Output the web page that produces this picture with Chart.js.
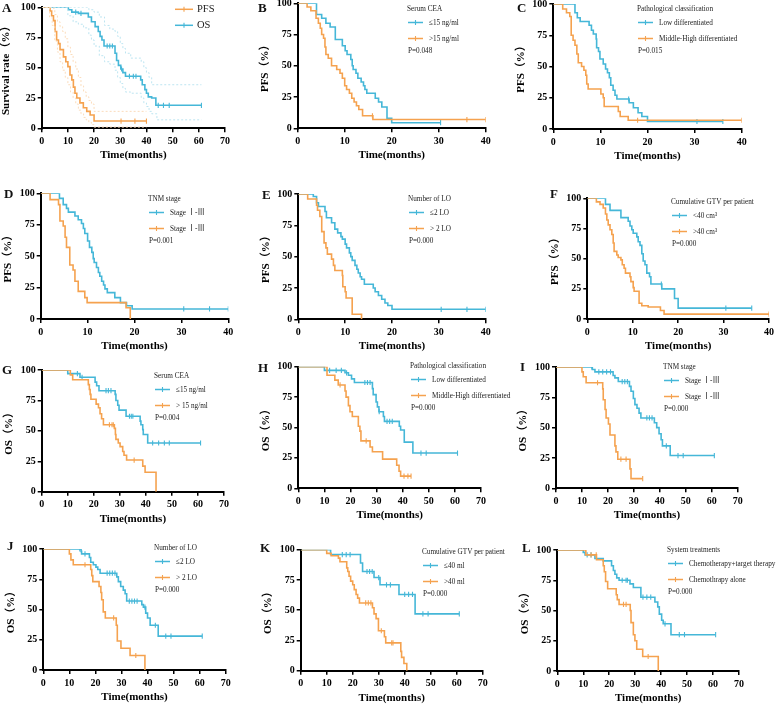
<!DOCTYPE html>
<html><head><meta charset="utf-8">
<script src="https://cdn.jsdelivr.net/npm/chart.js@4.4.1/dist/chart.umd.min.js"></script>
<style>
html,body{margin:0;padding:0;background:#fff;width:777px;height:704px;overflow:hidden;position:relative}
canvas{position:absolute}
</style></head><body>
<script>
// ================= DATA =================
// Panel A: overall PFS and OS with 95% CI
const A_pfs_time = [0, 3.2, 3.8, 4.5, 5.1, 5.7, 6.4, 7, 8.3, 9.2, 10, 10.8, 11.5, 12.1, 12.7, 13.4, 14.6, 15.9, 17.2, 18.5, 20, 40];
const A_pfs_surv = [100, 97, 93, 89, 80, 73, 70, 65, 59, 55, 51, 44, 40, 34, 29, 25, 21, 17, 14, 11, 6, 6];
const A_pfs_cens = [30.3, 35.6, 40];
const A_os_time = [0, 10.2, 11.5, 14, 17.8, 19, 20.4, 21.6, 22.3, 23, 23.8, 28, 28.6, 29.3, 30.2, 31, 32, 37.8, 38.4, 39.4, 40, 40.7, 42, 43.6, 61];
const A_os_surv = [100, 98, 96, 95, 92, 88, 84, 80, 76, 73, 68, 62, 56, 52, 49, 46, 43, 40, 36, 32, 29, 26, 25, 19, 19];
const A_os_cens = [13, 15, 25, 26, 27, 30.5, 33.5, 35, 36, 44.5, 46.5, 48.7, 61];
const A_pfs_hi_time = [0, 3.5, 4.5, 5, 6, 7, 8, 9, 10, 11, 12, 13, 14, 15, 16, 17, 18, 19, 20, 40];
const A_pfs_hi_surv = [100, 100, 99, 94, 88, 84, 80, 74, 67, 61, 55, 49, 42, 35, 30, 26, 23, 20, 14, 14];
const A_pfs_lo_time = [0, 3, 4, 5, 6, 7, 8, 9, 10, 11, 12, 13, 14, 15, 16, 17, 18, 19, 20, 40];
const A_pfs_lo_surv = [100, 92, 85, 72, 63, 55, 48, 42, 36, 30, 25, 20, 15, 12, 9, 7, 5, 3, 1, 1];
const A_os_hi_time = [0, 15, 18, 20, 22, 24, 26, 28, 29, 30, 31, 32, 34, 38, 39, 40, 41, 42, 61];
const A_os_hi_surv = [100, 100, 98, 96, 92, 85, 82, 80, 76, 70, 66, 62, 58, 55, 50, 46, 42, 36, 36];
const A_os_lo_time = [0, 10, 12, 14, 16, 18, 19, 20, 22, 24, 26, 28, 29, 30, 31, 32, 34, 38, 39, 40, 41, 42, 44, 61];
const A_os_lo_surv = [100, 93, 88, 86, 83, 77, 73, 68, 60, 55, 53, 48, 42, 37, 33, 30, 29, 25, 21, 18, 14, 12, 7, 7];

// Panel B: PFS by serum CEA
const B_le15_time = [0, 4, 5.1, 6, 6.9, 8, 9.5, 10.1, 10.5, 11.3, 11.6, 11.8, 12.4, 12.8, 13.5, 14, 14.3, 14.7, 16.5, 17.2, 17.9, 19, 20, 30.4];
const B_le15_surv = [100, 91, 88, 84, 81, 71, 66, 62, 59, 55, 50, 47, 44, 40, 37, 34, 31, 28, 24, 21, 17, 8, 4.5, 4.5];
const B_le15_cens = [30.4];
const B_gt15_time = [0, 2, 2.8, 3.9, 4.4, 4.8, 5.1, 5.5, 5.8, 6, 6.5, 7.2, 8.3, 9, 9.5, 10, 10.4, 11, 11.5, 12, 12.5, 13, 13.8, 16, 40];
const B_gt15_surv = [100, 97, 94, 88, 84, 80, 75, 72, 65, 59, 56, 50, 47, 44, 40, 34, 31, 28, 24, 21, 18, 15, 10, 7, 7];
const B_gt15_cens = [15.9, 36, 40];

// Panel C: PFS by pathological classification
const C_low_time = [0, 4.6, 5.1, 5.7, 7.6, 8.1, 8.5, 9.1, 9.2, 9.6, 9.9, 10.6, 11.1, 11.5, 11.9, 12.2, 12.7, 13.1, 13.5, 16.1, 17, 18, 18.8, 20, 36];
const C_low_surv = [100, 93, 89, 86, 83, 79, 76, 72, 65, 62, 56, 52, 48, 45, 41, 35, 31, 27, 24, 21, 17, 13, 10, 6, 6];
const C_low_cens = [16, 30.5, 36];
const C_mh_time = [0, 2, 2.8, 3.5, 3.8, 4.2, 4.6, 5, 5.3, 6, 6.5, 6.9, 7.1, 7.4, 10.1, 10.6, 10.8, 13.8, 14.2, 15.9, 40];
const C_mh_surv = [100, 96, 93, 90, 75, 71, 67, 60, 53, 50, 47, 43, 36, 32, 28, 25, 18, 14, 10, 7, 7];
const C_mh_cens = [17.9, 40];

// Panel D: PFS by TNM stage
const D_s1_time = [0, 4, 4.8, 5.5, 5.9, 7.3, 8, 8.7, 9.1, 9.4, 10, 10.4, 10.9, 11.2, 11.4, 11.9, 12.3, 12.6, 13, 13.4, 13.7, 14.2, 15.8, 17, 18.3, 19.5, 40];
const D_s1_surv = [100, 96, 91, 88, 85, 82, 79, 76, 72, 68, 62, 57, 53, 48, 45, 41, 37, 34, 30, 27, 24, 21, 17, 13, 10.5, 8, 8];
const D_s1_cens = [30.5, 36, 40];
const D_s2_time = [0, 2, 3.8, 4.1, 4.8, 5.2, 5.5, 6.2, 6.9, 7.3, 8, 9.4, 9.9, 18.2, 19.1];
const D_s2_surv = [100, 95, 91, 78, 74, 65, 57, 43, 39, 30, 22, 17, 13, 9, 0];
const D_s2_cens = [];

// Panel E: PFS by number of LO
const E_le2_time = [0, 3.2, 3.9, 4.3, 5.7, 6, 7.1, 7.8, 8.4, 9.1, 9.4, 10, 10.3, 10.9, 11.2, 11.5, 12.1, 12.5, 12.8, 13.2, 13.5, 14.1, 16, 16.4, 17.1, 17.8, 18.5, 19.1, 20, 40];
const E_le2_surv = [100, 98, 93, 90, 86, 81, 77, 72, 69, 66, 64, 60, 57, 53, 50, 47, 43, 40, 37, 34, 32, 28, 25, 22, 19, 16, 13, 11, 8, 8];
const E_le2_cens = [30.5, 36, 40];
const E_gt2_time = [0, 2, 3.9, 4.1, 4.6, 5, 5.5, 5.9, 6.2, 7.1, 7.5, 7.8, 9.4, 9.5, 10, 10.2, 11.5, 13.5];
const E_gt2_surv = [100, 96, 91, 87, 82, 70, 61, 57, 52, 48, 43, 39, 35, 26, 22, 17, 4, 0];
const E_gt2_cens = [];

// Panel F: PFS by cumulative GTV
const F_lt40_time = [0, 4, 5, 7.4, 9, 9.4, 9.8, 10.1, 10.9, 11.2, 11.6, 12, 12.3, 12.7, 13.1, 13.7, 14, 16.4, 19.2, 20, 36.2];
const F_lt40_surv = [100, 95, 90, 84, 81, 77, 74, 71, 68, 64, 61, 54, 48, 45, 38, 35, 29, 25, 17, 9, 9];
const F_lt40_cens = [16.3, 30.5, 36.2];
const F_gt40_time = [0, 2, 2.8, 3.5, 4, 4.3, 4.6, 5, 5.4, 5.7, 5.9, 6.5, 6.8, 7.4, 7.7, 8.1, 8.4, 9.4, 9.6, 10.1, 10.3, 11.4, 12, 13.4, 16.1, 16.9, 40];
const F_gt40_surv = [100, 97, 95, 92, 87, 82, 78, 74, 70, 63, 56, 53, 51, 49, 45, 42, 38, 35, 31, 26, 23, 13, 11, 10, 7, 4, 4];
const F_gt40_cens = [40];

// Panel G: OS by serum CEA
const G_le15_time = [0, 10, 14.7, 20.5, 21.1, 22, 28.2, 28.5, 29.2, 29.7, 32.4, 37.8, 38.1, 38.8, 39, 40.7, 61];
const G_le15_surv = [100, 97, 94, 90, 87, 83, 80, 75, 71, 67, 62, 58, 55, 51, 47, 40, 40];
const G_le15_cens = [13.7, 15.5, 24.7, 25.6, 26.6, 33.7, 34.4, 35, 42.6, 44.9, 47.1, 49, 61];
const G_gt15_time = [0, 11, 11.9, 17.9, 18.3, 18.6, 18.9, 20.9, 21.8, 22.4, 23, 23.7, 27.9, 28.3, 28.5, 29.4, 30.1, 31.1, 31.6, 32.6, 38.8, 39.7, 43.9];
const G_gt15_surv = [100, 96, 92, 88, 84, 80, 76, 72, 69, 64, 60, 55, 52, 47, 43, 40, 37, 33, 30, 26, 21, 16, 0];
const G_gt15_cens = [26, 27, 27.5, 35.5];

// Panel H: OS by pathological classification
const H_low_time = [0, 10, 17.9, 19.2, 20.4, 21.5, 28.4, 28.7, 29.8, 30.3, 30.9, 32.6, 33, 38.7, 39.2, 40.6, 43.9, 61];
const H_low_surv = [100, 97, 95, 93, 90, 87, 82, 77, 71, 67, 63, 59, 55, 51, 48, 38, 29, 29];
const H_low_cens = [12, 14.5, 16.5, 18.5, 25.5, 26.5, 27.5, 31, 34, 35, 36, 47, 49, 61];
const H_mh_time = [0, 11, 14, 15.3, 17.9, 18.3, 19.2, 19.8, 20.7, 23, 23.6, 24, 27.5, 28.4, 32.3, 37.7, 38.6, 39.2, 43.2];
const H_mh_surv = [100, 93, 89, 85, 80, 75, 68, 63, 59, 51, 47, 39, 34, 30, 24, 19, 14, 10, 10];
const H_mh_cens = [16, 26, 40.5, 42, 43.2];

// Panel I: OS by TNM stage
const I_s1_time = [0, 14, 15, 22, 22.7, 24, 28.3, 28.9, 29.8, 30.4, 31.2, 32, 32.7, 37.9, 38.8, 39.7, 40.5, 41, 44, 61];
const I_s1_surv = [100, 98, 96, 93, 91, 88, 84, 80, 74, 69, 66, 62, 58, 54, 50, 45, 40, 35, 27, 27];
const I_s1_cens = [13.8, 16.5, 18, 19.5, 21, 25.5, 26.5, 27.5, 35, 36, 37, 42.5, 47, 49, 61];
const I_s2_time = [0, 10, 10.5, 11.6, 18, 18.2, 18.9, 19.3, 20.2, 20.8, 22.7, 23.1, 23.8, 28.5, 28.9, 33.4];
const I_s2_surv = [100, 96, 92, 87, 82, 73, 65, 58, 53, 44, 35, 30, 24, 16, 8, 8];
const I_s2_cens = [16, 25, 27, 33.4];

// Panel J: OS by number of LO
const J_le2_time = [0, 14.5, 14.7, 17.7, 18.2, 19.2, 20.2, 20.9, 21.8, 28.2, 28.8, 29.7, 30.7, 31.4, 32, 37.8, 38.4, 39.3, 40, 41, 44.1, 61];
const J_le2_surv = [100, 98, 96, 93, 89, 87, 85, 83, 80, 77, 73, 69, 66, 63, 57, 54, 52, 47, 43, 37, 28, 28];
const J_le2_cens = [14, 16, 24.5, 25.5, 26.5, 27.5, 33, 34, 35, 36, 39, 43, 47, 49, 61];
const J_gt2_time = [0, 10, 10.6, 11.5, 18.2, 18.6, 19, 21.4, 22.1, 22.4, 23, 23.8, 28, 28.4, 29.8, 33.3, 39];
const J_gt2_surv = [100, 96, 91, 87, 83, 78, 73, 69, 64, 58, 48, 43, 37, 24, 18, 12, 0];
const J_gt2_cens = [16, 27, 35.5];

// Panel K: OS by cumulative GTV
const K_le40_time = [0, 11.5, 23, 23.8, 28.2, 30.5, 37.8, 44, 61];
const K_le40_surv = [100, 96, 89, 82, 77, 71, 63, 47, 47];
const K_le40_cens = [16, 17.5, 19, 25.5, 26.5, 27.5, 30, 33, 34.5, 40, 41.5, 43, 47, 49, 61];
const K_gt40_time = [0, 10, 11.7, 14.5, 15.1, 17.7, 18.1, 18.6, 19.2, 20, 20.6, 21.3, 21.9, 22.6, 27.6, 28.2, 29, 29.9, 32.2, 32.7, 38.5, 38.8, 39.7, 40.8];
const K_gt40_surv = [100, 97, 95, 93, 90, 85, 82, 78, 74, 71, 67, 63, 60, 56, 52, 47, 43, 33, 28, 23, 16, 11, 6, 0];
const K_gt40_cens = [25, 26, 27, 31, 35, 35.5];

// Panel L: OS by system treatments
const L_ct_time = [0, 10, 10.7, 14.5, 17.7, 20.9, 21.6, 22.2, 22.9, 23.8, 28, 29.3, 32.2, 37.6, 38.7, 39.3, 40.2, 40.8, 43.8, 61];
const L_ct_surv = [100, 98, 96, 93, 91, 87, 83, 80, 77, 75, 72, 69, 61, 57, 53, 47, 42, 39, 30, 30];
const L_ct_cens = [11.5, 13, 25, 26.5, 27, 33, 34.5, 36, 41.5, 47, 49, 61];
const L_ca_time = [0, 11, 15.1, 17.7, 18.1, 18.6, 19.4, 22.7, 23.1, 23.8, 28.1, 28.4, 29.3, 29.9, 30.6, 32.9, 38.9];
const L_ca_surv = [100, 96, 92, 87, 82, 74, 68, 63, 59, 55, 50, 40, 30, 25, 18, 12, 0];
const L_ca_cens = [13, 15, 25.5, 26.5, 35];

// Tick labels / axis ranges
const Y_TICKS = [0, 25, 50, 75, 100];
const X_TICKS_PFS = [0, 10, 20, 30, 40];
const X_TICKS_OS = [0, 10, 20, 30, 40, 50, 60, 70];

// Text
const X_TITLE = 'Time(months)';
const Y_TITLE_A = 'Survival rate（%）';
const Y_TITLE_PFS = 'PFS（%）';
const Y_TITLE_OS = 'OS（%）';

// ================= STYLE / LAYOUT =================
const BLUE = '#45B7D8', ORANGE = '#F5A24F';
const BLUE_CI = '#BDE5F1', ORANGE_CI = '#FBDCBC';
const SERIF = '"Liberation Serif", "Times New Roman", "Noto Sans CJK SC", serif';
const XH = 33.6;

function km(t, s) { return t.map((x, i) => ({x: x, y: s[i]})); }
function censorPts(t, s, c) {
  return c.map(ct => { let v = s[0]; for (let i = 0; i < t.length; i++) { if (t[i] <= ct) v = s[i]; } return {x: ct, y: v}; });
}

const LEG = {rowY: [13.5, 29.5], lineX: [1, 16], textX: 22, pX: 1, pY: 42, size: 8.5, sx: 0.85};

const PANELS = [
  {letter: 'A', letterPos: [2, 12], L: 41.7, T: 7.3, R: 225, B: 128.3, colL: 0, colR: 256, xticks: X_TICKS_OS, yw: 41.7, ytitle: Y_TITLE_A,
   ci: [[A_pfs_hi_time, A_pfs_hi_surv, ORANGE_CI], [A_pfs_lo_time, A_pfs_lo_surv, ORANGE_CI], [A_os_hi_time, A_os_hi_surv, BLUE_CI], [A_os_lo_time, A_os_lo_surv, BLUE_CI]],
   series: [[A_pfs_time, A_pfs_surv, A_pfs_cens, ORANGE, 'PFS'], [A_os_time, A_os_surv, A_os_cens, BLUE, 'OS']],
   legend: {pos: [175, 9.3], title: '', rowY: [0, 16], lineX: [0, 18], textX: 22, size: 10.5, sx: 1, p: ''}},
  {letter: 'B', letterPos: [258, 12], L: 297.7, T: 3.3, R: 485.7, B: 128.3, colL: 256, colR: 514, xticks: X_TICKS_PFS, yw: 39, ytitle: Y_TITLE_PFS,
   series: [[B_gt15_time, B_gt15_surv, B_gt15_cens, ORANGE, '>15 ng/ml'], [B_le15_time, B_le15_surv, B_le15_cens, BLUE, '≤15 ng/ml']],
   legend: {pos: [407, 9], title: 'Serum CEA', order: [1, 0], p: 'P=0.048'}},
  {letter: 'C', letterPos: [517, 12], L: 553.3, T: 4, R: 741.7, B: 129, colL: 514, colR: 777, xticks: X_TICKS_PFS, yw: 39, ytitle: Y_TITLE_PFS,
   series: [[C_mh_time, C_mh_surv, C_mh_cens, ORANGE, 'Middle-High differentiated'], [C_low_time, C_low_surv, C_low_cens, BLUE, 'Low differentiated']],
   legend: {pos: [637, 9], title: 'Pathological classification', order: [1, 0], p: 'P=0.015'}},
  {letter: 'D', letterPos: [4, 198], L: 40.7, T: 193.3, R: 228.3, B: 319, colL: 0, colR: 256, xticks: X_TICKS_PFS, yw: 39, ytitle: Y_TITLE_PFS,
   series: [[D_s2_time, D_s2_surv, D_s2_cens, ORANGE, 'Stage Ⅰ-Ⅲ'], [D_s1_time, D_s1_surv, D_s1_cens, BLUE, 'Stage Ⅰ-Ⅲ']],
   legend: {pos: [148, 199], title: 'TNM stage', order: [1, 0], p: 'P=0.001'}},
  {letter: 'E', letterPos: [262, 198.5], L: 298.3, T: 194, R: 485.7, B: 319.3, colL: 256, colR: 514, xticks: X_TICKS_PFS, yw: 39, ytitle: Y_TITLE_PFS,
   series: [[E_gt2_time, E_gt2_surv, E_gt2_cens, ORANGE, '> 2 LO'], [E_le2_time, E_le2_surv, E_le2_cens, BLUE, '≤2 LO']],
   legend: {pos: [408, 199], title: 'Number of LO', order: [1, 0], p: 'P=0.000'}},
  {letter: 'F', letterPos: [550, 198], L: 587.3, T: 198.3, R: 769, B: 319, colL: 514, colR: 777, xticks: X_TICKS_PFS, yw: 39, ytitle: Y_TITLE_PFS,
   series: [[F_gt40_time, F_gt40_surv, F_gt40_cens, ORANGE, '>40 cm³'], [F_lt40_time, F_lt40_surv, F_lt40_cens, BLUE, '<40 cm³']],
   legend: {pos: [671, 202], title: 'Cumulative GTV per patient', order: [1, 0], p: 'P=0.000'}},
  {letter: 'G', letterPos: [2, 374], L: 41.7, T: 370, R: 224, B: 491.7, colL: 0, colR: 256, xticks: X_TICKS_OS, yw: 39, ytitle: Y_TITLE_OS,
   series: [[G_gt15_time, G_gt15_surv, G_gt15_cens, ORANGE, '> 15 ng/ml'], [G_le15_time, G_le15_surv, G_le15_cens, BLUE, '≤15 ng/ml']],
   legend: {pos: [154, 376], title: 'Serum CEA', order: [1, 0], p: 'P=0.004'}},
  {letter: 'H', letterPos: [258, 372], L: 298.3, T: 366.7, R: 481, B: 488.3, colL: 256, colR: 514, xticks: X_TICKS_OS, yw: 39, ytitle: Y_TITLE_OS,
   series: [[H_mh_time, H_mh_surv, H_mh_cens, ORANGE, 'Middle-High differentiated'], [H_low_time, H_low_surv, H_low_cens, BLUE, 'Low differentiated']],
   legend: {pos: [410, 366], title: 'Pathological classification', order: [1, 0], p: 'P=0.000'}},
  {letter: 'I', letterPos: [520, 371], L: 556, T: 367, R: 737.7, B: 488.3, colL: 514, colR: 777, xticks: X_TICKS_OS, yw: 39, ytitle: Y_TITLE_OS,
   series: [[I_s2_time, I_s2_surv, I_s2_cens, ORANGE, 'Stage Ⅰ-Ⅲ'], [I_s1_time, I_s1_surv, I_s1_cens, BLUE, 'Stage Ⅰ-Ⅲ']],
   legend: {pos: [663, 367], title: 'TNM stage', order: [1, 0], p: 'P=0.000'}},
  {letter: 'J', letterPos: [7, 550], L: 43.3, T: 549, R: 225.7, B: 670, colL: 0, colR: 256, xticks: X_TICKS_OS, yw: 39, ytitle: Y_TITLE_OS,
   series: [[J_gt2_time, J_gt2_surv, J_gt2_cens, ORANGE, '> 2 LO'], [J_le2_time, J_le2_surv, J_le2_cens, BLUE, '≤2 LO']],
   legend: {pos: [154, 548], title: 'Number of LO', order: [1, 0], p: 'P=0.000'}},
  {letter: 'K', letterPos: [260, 552], L: 300.7, T: 549.7, R: 482.7, B: 670.7, colL: 256, colR: 514, xticks: X_TICKS_OS, yw: 39, ytitle: Y_TITLE_OS,
   series: [[K_gt40_time, K_gt40_surv, K_gt40_cens, ORANGE, '>40 ml'], [K_le40_time, K_le40_surv, K_le40_cens, BLUE, '≤40 ml']],
   legend: {pos: [422, 552], title: 'Cumulative GTV per patient', order: [1, 0], p: 'P=0.000'}},
  {letter: 'L', letterPos: [522, 552], L: 557.3, T: 550, R: 739, B: 671, colL: 514, colR: 777, xticks: X_TICKS_OS, yw: 39, ytitle: Y_TITLE_OS,
   series: [[L_ca_time, L_ca_surv, L_ca_cens, ORANGE, 'Chemothrapy alone'], [L_ct_time, L_ct_surv, L_ct_cens, BLUE, 'Chemotherapy+target therapy']],
   legend: {pos: [667, 550], title: 'System treatments', order: [1, 0], p: 'P=0.000'}}
];

const panelDecor = {
  id: 'panelDecor',
  afterDraw(chart, args, o) {
    const ctx = chart.ctx, p = o.panel, ox = o.ox, oy = o.oy;
    ctx.save();
    ctx.fillStyle = '#111';
    ctx.font = 'bold 13px ' + SERIF;
    ctx.textBaseline = 'alphabetic';
    ctx.textAlign = 'left';
    ctx.fillText(p.letter, p.letterPos[0] - ox, p.letterPos[1] - oy);
    const lg = Object.assign({}, LEG, p.legend);
    const x0 = lg.pos[0] - ox, y0 = lg.pos[1] - oy;
    ctx.font = lg.size + 'px ' + SERIF;
    ctx.textBaseline = 'middle';
    const txt = (s, x, y) => { ctx.save(); ctx.fillStyle = '#222'; ctx.translate(x, y); ctx.scale(lg.sx, 1); ctx.fillText(s, 0, 0); ctx.restore(); };
    if (lg.title) txt(lg.title, x0, y0);
    const order = lg.order || [0, 1];
    order.forEach((si, row) => {
      const s = p.series[si];
      const y = y0 + lg.rowY[row];
      ctx.strokeStyle = s[3];
      ctx.lineWidth = 1.5;
      ctx.beginPath(); ctx.moveTo(x0 + lg.lineX[0], y); ctx.lineTo(x0 + lg.lineX[1], y); ctx.stroke();
      const mx = x0 + (lg.lineX[0] + lg.lineX[1]) / 2;
      ctx.lineWidth = 1.1;
      ctx.beginPath(); ctx.moveTo(mx, y - 2.5); ctx.lineTo(mx, y + 2.5); ctx.stroke();
      txt(s[4], x0 + lg.textX, y);
    });
    if (lg.p) txt(lg.p, x0 + lg.pX, y0 + lg.pY);
    ctx.restore();
  }
};

PANELS.forEach(p => {
  const cv = document.createElement('canvas');
  const cl = p.colL, ct = Math.round(p.T - 12);
  const cw = p.colR - p.colL;
  const padTop = p.T - ct;
  const ch = Math.ceil(padTop + (p.B - p.T) + XH + 2);
  cv.width = cw; cv.height = ch;
  cv.style.left = cl + 'px'; cv.style.top = ct + 'px';
  cv.style.width = cw + 'px'; cv.style.height = ch + 'px';
  document.body.appendChild(cv);
  const padL = p.L - p.yw - cl;
  const padR = cl + cw - p.R;
  const padB = ch - (p.B - ct) - XH;
  const datasets = [];
  (p.ci || []).forEach(c => {
    datasets.push({data: km(c[0], c[1]), borderColor: c[2], borderWidth: 1, borderDash: [2, 2], stepped: true, pointRadius: 0, fill: false});
  });
  p.series.forEach(s => {
    datasets.push({data: km(s[0], s[1]), borderColor: s[3], borderWidth: 1.6, stepped: true, pointRadius: 0, fill: false});
    datasets.push({data: censorPts(s[0], s[1], s[2]), showLine: false, pointStyle: 'line', rotation: 90, pointRadius: 2.6,
      pointBorderColor: s[3], pointBackgroundColor: s[3], pointBorderWidth: 1.1});
  });
  const xmax = p.xticks[p.xticks.length - 1];
  const tickFont = {family: SERIF, size: 10, weight: 'bold'};
  const titleFont = {family: SERIF, size: 11, weight: 'bold'};
  new Chart(cv, {
    type: 'line',
    data: {datasets: datasets},
    options: {
      animation: false, responsive: false, devicePixelRatio: 1, events: [],
      layout: {padding: {left: padL, right: padR, top: padTop, bottom: padB}},
      plugins: {legend: {display: false}, tooltip: {enabled: false}, panelDecor: {panel: p, ox: cl, oy: ct}},
      scales: {
        x: {type: 'linear', min: 0, max: xmax,
          afterBuildTicks: s => { s.ticks = p.xticks.map(v => ({value: v})); },
          ticks: {font: tickFont, color: '#000', padding: 3, autoSkip: false, maxRotation: 0},
          grid: {display: true, drawOnChartArea: false, drawTicks: true, tickLength: 4, color: '#000', lineWidth: 1.5},
          border: {display: true, color: '#000', width: 2},
          title: {display: true, text: X_TITLE, font: titleFont, color: '#000', padding: 0},
          afterFit: s => { s.height = XH; }},
        y: {type: 'linear', min: 0, max: 100,
          afterBuildTicks: s => { s.ticks = Y_TICKS.map(v => ({value: v})); },
          ticks: {font: tickFont, color: '#000', padding: 2},
          grid: {display: true, drawOnChartArea: false, drawTicks: true, tickLength: 4, color: '#000', lineWidth: 1.5},
          border: {display: true, color: '#000', width: 2},
          title: {display: true, text: p.ytitle, font: titleFont, color: '#000', padding: 0},
          afterFit: s => { s.width = p.yw; }}
      }
    },
    plugins: [panelDecor]
  });
});
</script>
</body></html>
